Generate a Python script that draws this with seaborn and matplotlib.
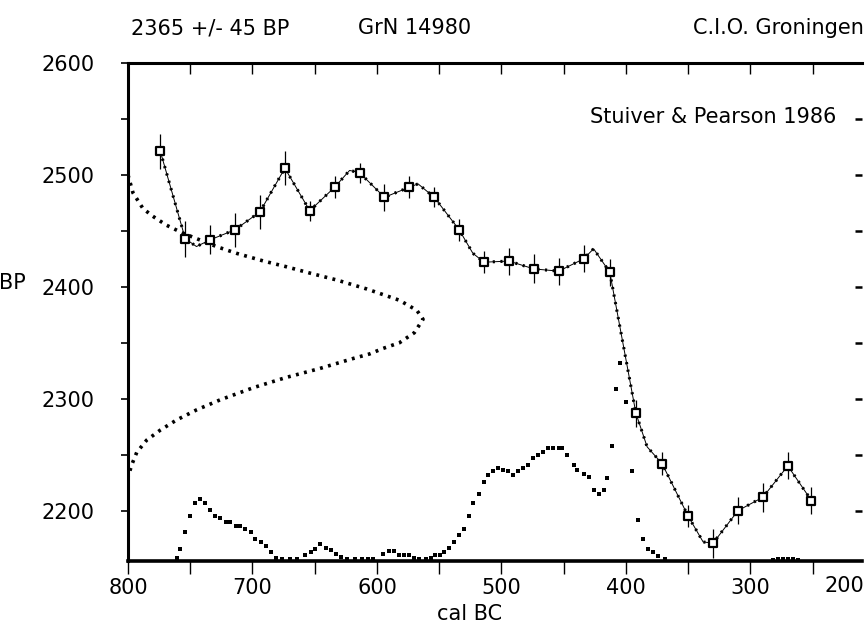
import matplotlib
matplotlib.use("Agg")
import matplotlib.pyplot as plt
import numpy as np
import seaborn as sns

# measured calibration points (cal BC, BP, 1 sigma)
cal_year = [774, 754, 734, 714, 694, 674, 654, 634, 614, 594, 574, 554, 534, 514,
            494, 474, 454, 434, 413, 392, 371, 350, 330, 310, 290, 270, 251]
cal_bp = [2521, 2443, 2442, 2451, 2467, 2506, 2468, 2489, 2502, 2480, 2489, 2480,
          2451, 2422, 2423, 2416, 2414, 2425, 2413, 2287, 2242, 2195, 2171, 2200,
          2212, 2240, 2209]
cal_err = [16, 16, 13, 15, 15, 15, 9, 10, 9, 12, 10, 9, 10, 10, 12, 13, 12, 12,
           12, 12, 10, 10, 13, 12, 13, 12, 12]

# smoothed calibration curve
curve_year = [774, 754, 745, 734, 714, 694, 674, 654, 634, 622, 614, 594, 574, 567,
              554, 534, 523, 514, 494, 474, 454, 434, 426, 413, 392, 383, 371, 350,
              338, 330, 310, 300, 290, 270, 251]
curve_bp = [2521, 2443, 2436, 2442, 2451, 2467, 2506, 2468, 2489, 2504, 2502, 2480,
            2489, 2492, 2480, 2451, 2430, 2422, 2423, 2416, 2414, 2425, 2434, 2413,
            2287, 2257, 2242, 2195, 2172, 2171, 2200, 2206, 2212, 2240, 2209]

# sample distribution along the BP axis (2365 +/- 45)
gauss_bp = [2500, 2484, 2470, 2463, 2455, 2448, 2436, 2430, 2423, 2418, 2412, 2406,
            2398, 2388, 2379, 2371, 2359, 2350, 2345, 2340, 2336, 2327, 2319, 2310,
            2299, 2290, 2281, 2272, 2263, 2252, 2241, 2230]
gauss_year = [800, 796, 788, 780, 769, 756, 729, 713, 691, 673, 653, 632, 608, 582,
              568, 563, 570, 582, 595, 606, 619, 646, 673, 699, 726, 745, 761, 774,
              785, 793, 797, 800]

# calibrated probability along the cal BC axis (height above the x axis, in BP units)
dist_year = [761, 758, 754, 750, 746, 742, 738, 734, 730, 726, 721, 718, 713, 710,
             706, 701, 698, 693, 689, 685, 681, 676, 670, 664, 658, 653, 650, 646,
             641, 637, 633, 629, 624, 618, 612, 607, 603, 595, 590, 586, 582, 578,
             574, 570, 566, 561, 557, 553, 549, 546, 542, 538, 534, 530, 526, 523,
             518, 514, 511, 507, 503, 499, 495, 491, 487, 483, 479, 475, 471, 467,
             463, 459, 454, 451, 447, 442, 439, 434, 430, 426, 422, 418, 415, 411,
             408, 405, 400, 395, 390, 386, 382, 378, 374, 369, 282, 278, 274, 270,
             266, 262]
dist_h = [2.5, 11, 26, 40, 52, 55, 52, 46, 40, 38, 35, 35, 31, 31,
          29, 26, 20, 17, 13, 8, 3, 1.5, 1.5, 1.5, 5, 8, 11, 15,
          12, 9.5, 6, 3.5, 1.5, 1.5, 1.5, 1.5, 2, 6, 8.7, 8.6, 5.6, 5.5,
          5.4, 2.3, 2.2, 2.2, 3, 5, 5, 8, 11.4, 17, 23, 28.5, 40, 52,
          60, 71, 77, 80, 83, 81, 80, 77, 80.5, 83.5, 86, 92, 95, 97.5,
          101, 101, 101, 101, 95, 86, 81, 78, 75, 63, 60, 63, 74, 103,
          154, 177, 142, 80, 37, 20, 11, 8, 4.6, 2.2, 1, 2, 2.2, 2.2,
          2, 1]

x_ticks = [800, 750, 700, 650, 600, 550, 500, 450, 400, 350, 300, 250]
x_labels = ["800", "", "700", "", "600", "", "500", "", "400", "", "300", ""]
y_ticks = [2200, 2250, 2300, 2350, 2400, 2450, 2500, 2550, 2600]
y_labels = ["2200", "", "2300", "", "2400", "", "2500", "", "2600"]

X_LIM = (800, 210.4)
Y_LIM = (2155, 2600)

sns.set_theme(style="white")
plt.rcParams["font.family"] = ["DejaVu Sans"]
plt.rcParams["text.color"] = "black"
plt.rcParams["xtick.color"] = "black"
plt.rcParams["ytick.color"] = "black"
FS = 15

fig = plt.figure(figsize=(8.67, 6.39), dpi=100)
ax = fig.add_axes([128 / 867, (639 - 561) / 639, 734 / 867, 498 / 639])

# sample gaussian on the BP axis
sns.lineplot(x=gauss_year, y=gauss_bp, sort=False, estimator=None, color="black",
             lw=2.6, linestyle=(0, (0.8, 1.5)), ax=ax)

# calibrated distribution
sns.scatterplot(x=dist_year, y=np.array(dist_h) + Y_LIM[0], marker="s", s=7,
                color="black", linewidth=0, ax=ax, clip_on=False)

# calibration curve
sns.lineplot(x=curve_year, y=curve_bp, sort=False, estimator=None, color="black",
             lw=0.7, ax=ax)
sns.lineplot(x=curve_year, y=curve_bp, sort=False, estimator=None, color="black",
             lw=2.2, linestyle=(0, (0.7, 1.8)), ax=ax)
ax.errorbar(cal_year, cal_bp, yerr=cal_err, fmt="none", ecolor="black",
            elinewidth=0.9, capsize=0, zorder=4)
sns.scatterplot(x=cal_year, y=cal_bp, marker="s", s=38, facecolor="white",
                edgecolor="black", linewidth=1.6, zorder=5, ax=ax)

ax.set_xlim(*X_LIM)
ax.set_ylim(*Y_LIM)
ax.set_xticks(x_ticks)
ax.set_xticklabels(x_labels, fontsize=FS)
ax.set_yticks(y_ticks)
ax.set_yticklabels(y_labels, fontsize=FS)
ax.tick_params(axis="x", direction="out", length=9, width=1, pad=3,
               bottom=True, colors="black")
ax.tick_params(axis="y", direction="out", length=5, width=1.2, pad=19,
               left=True, colors="black")
ax.set_xlabel("")
ax.set_ylabel("")
for side in ["left", "bottom", "top"]:
    ax.spines[side].set_visible(True)
    ax.spines[side].set_color("black")
ax.spines["left"].set_linewidth(2.2)
ax.spines["bottom"].set_linewidth(2.6)
ax.spines["top"].set_linewidth(2.2)
ax.spines["right"].set_visible(False)

top = ax.secondary_xaxis("top")
top.set_xticks(x_ticks)
top.set_xticklabels([])
top.tick_params(direction="in", length=8, width=1, colors="black")
top.spines["top"].set_visible(False)

right = ax.secondary_yaxis("right")
right.set_yticks(y_ticks)
right.set_yticklabels([])
right.tick_params(direction="in", length=5, width=1.8, colors="black")
right.spines["right"].set_visible(False)

# the last tick label sits inside the frame in the original
ax.text(1.003, -0.05, "200", transform=ax.transAxes, ha="right", va="center",
        fontsize=FS)

fig.text(131 / 867, 1 - 28 / 639, "2365 +/- 45 BP", ha="left", va="center", fontsize=FS)
fig.text(358 / 867, 1 - 28 / 639, "GrN 14980", ha="left", va="center", fontsize=FS)
fig.text(864 / 867, 1 - 28 / 639, "C.I.O. Groningen", ha="right", va="center", fontsize=FS)
fig.text(836 / 867, 1 - 117 / 639, "Stuiver & Pearson 1986", ha="right", va="center",
         fontsize=FS)
fig.text(12 / 867, 1 - 283 / 639, "BP", ha="center", va="center", fontsize=FS)
fig.text(470 / 867, 1 - 614 / 639, "cal BC", ha="center", va="center", fontsize=FS)

fig.savefig("out.png", dpi=100, facecolor="white")
